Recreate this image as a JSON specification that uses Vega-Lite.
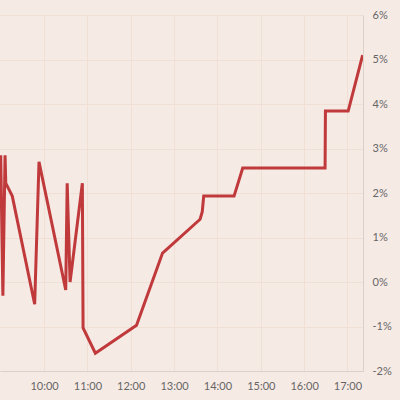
{
  "$schema": "https://vega.github.io/schema/vega-lite/v6.json",
  "width": 363,
  "height": 356,
  "autosize": {"type": "none"},
  "padding": {"left": 0, "top": 15, "right": 37, "bottom": 29},
  "background": "#f6eae5",
  "config": {
    "view": {"stroke": null},
    "font": "Lato",
    "axis": {"labelFont": "Lato", "labelFontSize": 11, "labelColor": "#666", "gridColor": "#efdfd4", "gridWidth": 1, "domainColor": "#dcd0ca", "ticks": false, "title": null}
  },
  "data": {"values": [
    {"t": "2024-01-01T09:00:00", "v": 2.85},
    {"t": "2024-01-01T09:03:00", "v": -0.31},
    {"t": "2024-01-01T09:06:00", "v": 2.85},
    {"t": "2024-01-01T09:07:00", "v": 2.22},
    {"t": "2024-01-01T09:16:00", "v": 1.93},
    {"t": "2024-01-01T09:47:00", "v": -0.5},
    {"t": "2024-01-01T09:53:00", "v": 2.7},
    {"t": "2024-01-01T10:30:00", "v": -0.18},
    {"t": "2024-01-01T10:32:00", "v": 2.22},
    {"t": "2024-01-01T10:36:00", "v": 0.0},
    {"t": "2024-01-01T10:53:00", "v": 2.22},
    {"t": "2024-01-01T10:54:00", "v": -1.03},
    {"t": "2024-01-01T11:11:00", "v": -1.6},
    {"t": "2024-01-01T12:08:00", "v": -0.97},
    {"t": "2024-01-01T12:44:00", "v": 0.65},
    {"t": "2024-01-01T13:36:00", "v": 1.41},
    {"t": "2024-01-01T13:39:00", "v": 1.58},
    {"t": "2024-01-01T13:41:00", "v": 1.93},
    {"t": "2024-01-01T14:23:00", "v": 1.93},
    {"t": "2024-01-01T14:35:00", "v": 2.56},
    {"t": "2024-01-01T16:29:00", "v": 2.56},
    {"t": "2024-01-01T16:29:30", "v": 3.84},
    {"t": "2024-01-01T17:01:00", "v": 3.84},
    {"t": "2024-01-01T17:21:00", "v": 5.1}
  ]},
  "mark": {"type": "line", "color": "#c0393b", "strokeWidth": 3, "strokeJoin": "miter", "clip": true},
  "encoding": {
    "x": {
      "field": "t", "type": "temporal",
      "scale": {"domain": ["2024-01-01T08:59:00", "2024-01-01T17:21:30"], "nice": false},
      "axis": {"format": "%H:%M", "labelPadding": 9, "grid": true,
        "values": ["2024-01-01T10:00:00", "2024-01-01T11:00:00", "2024-01-01T12:00:00", "2024-01-01T13:00:00", "2024-01-01T14:00:00", "2024-01-01T15:00:00", "2024-01-01T16:00:00", "2024-01-01T17:00:00"]}
    },
    "y": {
      "field": "v", "type": "quantitative",
      "scale": {"domain": [-2, 6], "nice": false, "zero": false},
      "axis": {"orient": "right", "values": [-2, -1, 0, 1, 2, 3, 4, 5, 6], "labelExpr": "datum.value + '%'", "labelPadding": 9, "grid": true}
    }
  }
}
